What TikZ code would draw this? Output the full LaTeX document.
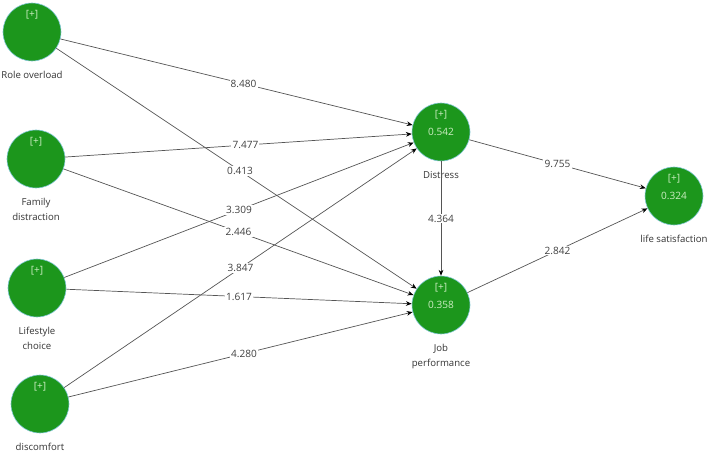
\documentclass[tikz,border=0pt]{standalone}
\usepackage{fontspec}
\setmainfont{Open Sans}
\usetikzlibrary{positioning,arrows.meta}
\definecolor{lvgreen}{RGB}{28,150,28}
\definecolor{lvrim}{RGB}{130,200,215}
\definecolor{lvtext}{RGB}{205,238,195}
\definecolor{pathgray}{RGB}{85,85,85}

\begin{document}
\begin{tikzpicture}[x=0.03cm, y=-0.03cm,
		latent/.style={circle, draw=lvrim, fill=lvgreen, minimum size=1.74cm,
					inner sep=0pt, line width=0.5pt, text=lvtext,
					font=\fontsize{8.6}{10}\selectfont,
					label={[plus]center:[+]}},
		plus/.style={text=lvtext, font=\fontsize{8.6}{10}\selectfont, yshift=0.52cm},
		lvname/.style={align=center, font=\fontsize{8.2}{12.8}\selectfont,
					text=black!80, inner sep=1pt, below=7.5pt of #1},
		coef/.style={fill=white, inner sep=1pt, text=black!75,
					font=\fontsize{8.6}{10}\selectfont},
		path/.style={draw=pathgray, line width=0.6pt,
					-{Stealth[length=5pt, width=4pt, black]}}
	]
		\useasboundingbox (0,0) rectangle (708,453);

		% exogenous constructs
		\node[latent] (ro) at (32,32) {};
		\node[latent] (fd) at (36,159) {};
		\node[latent] (lc) at (37,288) {};
		\node[latent] (dc) at (40,404) {};

		% endogenous constructs
		\node[latent] (ds) at (441,132) {0.542};
		\node[latent] (jp) at (441,305) {0.358};
		\node[latent] (ls) at (674,196) {0.324};

		\node[lvname=ro] {Role overload};
		\node[lvname=fd] {Family\\distraction};
		\node[lvname=lc] {Lifestyle\\choice};
		\node[lvname=dc] {discomfort};
		\node[lvname=ds] {Distress};
		\node[lvname=jp] {Job\\performance};
		\node[lvname=ls] {life satisfaction};

		\draw[path] (ro) -- node[coef, pos=0.52] {8.480} (ds);
		\draw[path] (ro) -- node[coef, pos=0.51] {0.413} (jp);
		\draw[path] (fd) -- node[coef, pos=0.52] {7.477} (ds);
		\draw[path] (fd) -- node[coef, pos=0.5] {2.446} (jp);
		\draw[path] (lc) -- node[coef, pos=0.5] {3.309} (ds);
		\draw[path] (lc) -- node[coef, pos=0.5] {1.617} (jp);
		\draw[path] (dc) -- node[coef, pos=0.5] {3.847} (ds);
		\draw[path] (dc) -- node[coef, pos=0.51] {4.280} (jp);
		\draw[path] (ds) -- node[coef, pos=0.5] {4.364} (jp);
		\draw[path] (ds) -- node[coef, pos=0.5] {9.755} (ls);
		\draw[path] (jp) -- node[coef, pos=0.5] {2.842} (ls);
	\end{tikzpicture}
\end{document}
